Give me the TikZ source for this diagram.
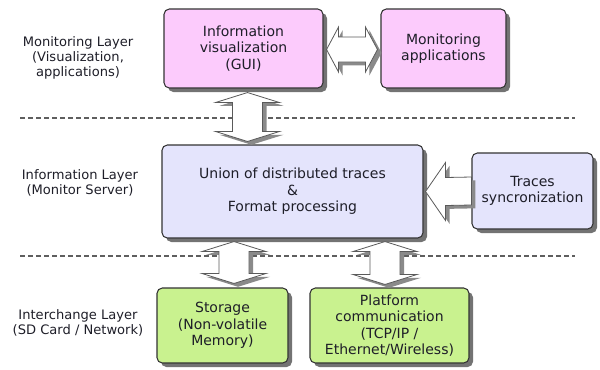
\documentclass[tikz,border=0pt]{standalone}
\usepackage{fontspec}
\setmainfont{DejaVu Sans}
\usetikzlibrary{calc,shadows}
\definecolor{monpink}{HTML}{FCCBFC}
\definecolor{infoblue}{HTML}{E4E4FC}
\definecolor{xchgreen}{HTML}{C9F28F}
\definecolor{inktext}{HTML}{1E1E28}
\definecolor{arrowline}{HTML}{5A5A5A}
\definecolor{arrowshade}{HTML}{8A8A8A}
\definecolor{sepgray}{HTML}{5E5E5E}

% vertical double block arrow outline between tips #1 (top) and #2 (bottom)
\newcommand\vblockpath[2]{%
  (#1) -- ($(#1)+(32,10)$) -- ($(#1)+(15,10)$) -- ($(#2)+(15,-10)$)
  -- ($(#2)+(32,-10)$) -- (#2) -- ($(#2)+(-32,-10)$) -- ($(#2)+(-15,-10)$)
  -- ($(#1)+(-15,10)$) -- ($(#1)+(-32,10)$) -- cycle}
\newcommand\vblockarrow[2]{%
  \begin{scope}[transform canvas={xshift=3pt, yshift=-2.5pt}]
    \fill[arrowshade] \vblockpath{#1}{#2};
  \end{scope}
  \draw[blockarrow] \vblockpath{#1}{#2};
}

\begin{document}
\begin{tikzpicture}[x=0.75pt,y=-0.75pt,
  layerbox/.style={draw=black!80, line width=0.8pt, rounded corners=4pt,
    align=center, text=inktext, inner sep=0pt,
    font=\fontsize{10.5}{12.4}\selectfont,
    drop shadow={shadow xshift=3pt, shadow yshift=-3pt, fill=black!55, opacity=1}},
  monbox/.style={layerbox, fill=monpink},
  infobox/.style={layerbox, fill=infoblue},
  xchbox/.style={layerbox, fill=xchgreen},
  layerlabel/.style={align=center, text=inktext, font=\fontsize{9.8}{11.3}\selectfont},
  separator/.style={draw=sepgray, line width=1.2pt, dash pattern=on 3.8pt off 2.2pt},
  blockarrow/.style={fill=white, draw=arrowline, line width=0.6pt, line join=miter}]

\useasboundingbox (0,0) rectangle (600,369);

% layer separators
\coordinate (s1a) at (20,118);  \coordinate (s1b) at (575,118);
\coordinate (s2a) at (20,256);  \coordinate (s2b) at (575,256);
\draw[separator] (s1a) -- (s1b);
\draw[separator] (s2a) -- (s2b);

% layer names
\node[layerlabel] (lmon) at (78,58) {Monitoring Layer\\(Visualization,\\applications)};
\node[layerlabel] (linfo) at (80,182.5) {Information Layer\\(Monitor Server)};
\node[layerlabel] (lxch) at (78,322.5) {Interchange Layer\\(SD Card / Network)};

% blocks
\node[monbox, minimum width=159*0.75pt, minimum height=79*0.75pt] (gui) at (243.5,48.5)
  {Information\\visualization\\(GUI)};
\node[monbox, minimum width=125*0.75pt, minimum height=79*0.75pt] (apps) at (443.5,48.5)
  {Monitoring\\applications};
\node[infobox, minimum width=261*0.75pt, minimum height=93*0.75pt] (union) at (292.5,191.5)
  {Union of distributed traces\\\&\\Format processing};
\node[infobox, minimum width=121*0.75pt, minimum height=76*0.75pt] (sync) at (532.5,191)
  {Traces\\syncronization};
\node[xchbox, minimum width=131*0.75pt, minimum height=75*0.75pt] (stor) at (222.5,325.5)
  {Storage\\(Non-volatile\\Memory)};
\node[xchbox, minimum width=159*0.75pt, minimum height=75*0.75pt] (plat) at (389.5,325.5)
  {Platform\\communication\\(TCP/IP /\\Ethernet/Wireless)};

% vertical connectors between layers
\coordinate (xa) at (247.5,0);
\coordinate (xb) at (234,0);
\coordinate (xc) at (385,0);
\coordinate (a1t) at ($(gui.south -| xa)+(0,4)$);
\coordinate (a1b) at ($(union.north -| xa)+(0,-3)$);
\coordinate (a2t) at ($(union.south -| xb)+(0,3)$);
\coordinate (a2b) at ($(stor.north -| xb)+(0,-4)$);
\coordinate (a3t) at ($(union.south -| xc)+(0,3)$);
\coordinate (a3b) at ($(plat.north -| xc)+(0,-3)$);
\vblockarrow{a1t}{a1b}
\vblockarrow{a2t}{a2b}
\vblockarrow{a3t}{a3b}

% horizontal double arrow between the monitoring blocks
\coordinate (hl) at ($(gui.east)+(3,1)$);
\coordinate (hr) at ($(apps.west)+(-3,1)$);
\newcommand\hblockpath{%
  (hl) -- ($(hl)+(12,-22.5)$) -- ($(hl)+(12,-12.5)$) -- ($(hr)+(-12,-12.5)$)
  -- ($(hr)+(-12,-22.5)$) -- (hr) -- ($(hr)+(-12,22.5)$) -- ($(hr)+(-12,12.5)$)
  -- ($(hl)+(12,12.5)$) -- ($(hl)+(12,22.5)$) -- cycle}
\begin{scope}[transform canvas={xshift=3pt, yshift=-2.5pt}]
  \fill[arrowshade] \hblockpath;
\end{scope}
\draw[blockarrow] \hblockpath;

% synchronization feeds the union block
\coordinate (st) at ($(union.east)+(2,0)$);
\coordinate (ss) at (sync.west);
\newcommand\syncpath{%
  (st) -- ($(st)+(20,-29)$) -- ($(st)+(20,-14)$) -- ($(ss)+(0,-14)$)
  -- ($(ss)+(0,14)$) -- ($(st)+(20,14)$) -- ($(st)+(20,29)$) -- cycle}
\begin{scope}[transform canvas={xshift=3pt, yshift=-2.5pt}]
  \fill[arrowshade] \syncpath;
\end{scope}
\draw[blockarrow] \syncpath;

\end{tikzpicture}
\end{document}
